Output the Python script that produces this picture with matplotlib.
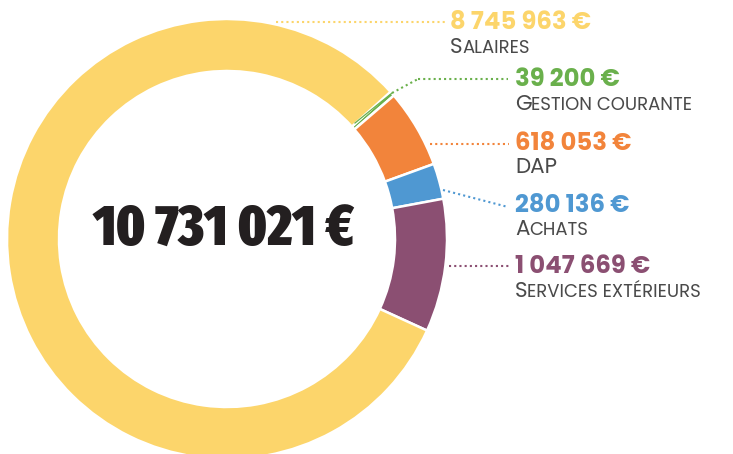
import matplotlib.pyplot as plt
from matplotlib import font_manager

# budget breakdown (euros)
categories = ["Salaires", "Gestion courante", "DAP", "Achats", "Services extérieurs"]
values = [8745963, 39200, 618053, 280136, 1047669]
colors = ["#FCD56B", "#6AB04C", "#F2843B", "#4F98D2", "#8B4F72"]
value_labels = ["8 745 963 €", "39 200 €", "618 053 €", "280 136 €", "1 047 669 €"]
total_label = "10 731 021 €"

W, H = 733, 454

weights = {}
for f in font_manager.fontManager.ttflist:
    weights.setdefault(f.name, set()).add(f.weight)


def pick(names, lo, hi):
    # first family that ships a static face within the weight range
    for n in names:
        if any(lo <= w <= hi for w in weights.get(n, ())):
            return n
    return "DejaVu Sans"


big_font = pick(["Fira Sans Extra Condensed", "Fira Sans Condensed", "Barlow Condensed"], 800, 900)
sans = ["Montserrat", "Poppins", "Raleway", "Lato", "Open Sans"]
value_font = pick(sans, 700, 700)
name_font = pick([value_font] + sans, 400, 500)


def Y(y):
    # pixel rows counted from the top
    return H - y


fig = plt.figure(figsize=(W / 100, H / 100), dpi=100)
ax = fig.add_axes([0, 0, 1, 1])

# ring: Gestion courante first, drawn clockwise from the top right
order = [1, 2, 3, 4, 0]
ax.pie([values[i] for i in order], colors=[colors[i] for i in order],
       startangle=42, counterclock=False, center=(227, Y(239)), radius=220,
       wedgeprops=dict(width=52, edgecolor="white", linewidth=1.8))
ax.set_xlim(0, W)
ax.set_ylim(0, H)
ax.set_aspect("equal")
ax.axis("off")

ax.text(223, Y(230), total_label, ha="center", va="center",
        fontsize=41, fontweight=900, color="#231F20",
        family=[big_font, "DejaVu Sans"])

# leader lines (pixel coords) and label anchors
leaders = [
    [(276, 22), (446, 22)],
    [(418, 79), (508, 79)],
    [(430, 144), (509, 144)],
    [(443, 190), (508, 207)],
    [(449, 266), (509, 266)],
]
anchors = [(450, 22, 53), (515, 79, 110), (515, 143, 173), (515, 205, 235), (515, 266, 297)]
dots = (0, (1, 1.5))

for i, pts in enumerate(leaders):
    xs = [p[0] for p in pts]
    ys = [Y(p[1]) for p in pts]
    ax.plot(xs, ys, color=colors[i], lw=1.5, linestyle=dots)
# green leader comes out of the thin wedge
ax.plot([355, 392], [Y(123), Y(93)], color=colors[1], lw=0.9)
ax.plot([392, 418], [Y(93), Y(79)], color=colors[1], lw=1.5, linestyle=dots)

fig.canvas.draw()
renderer = fig.canvas.get_renderer()
inv = ax.transData.inverted()

for i, name in enumerate(categories):
    x, yv, yb = anchors[i]
    ax.text(x, Y(yv + 1.5), value_labels[i], ha="left", va="center",
            fontsize=17.5, fontweight="bold", color=colors[i],
            family=[value_font, "DejaVu Sans"])
    # small caps: first letter full size, rest as smaller capitals
    if name.isupper():
        big, small = name, ""
    else:
        big, small = name[0], name[1:].upper()
    t = ax.text(x, Y(yb), big, ha="left", va="baseline", fontsize=15.5,
                color="#4A4A4A", family=[name_font, "DejaVu Sans"])
    if small:
        bb = t.get_window_extent(renderer)
        x1 = inv.transform((bb.x1, bb.y0))[0]
        ax.text(x1 - 0.5, Y(yb), small, ha="left", va="baseline",
                fontsize=13, color="#4A4A4A", family=[name_font, "DejaVu Sans"])

fig.savefig("out.png", dpi=100)
